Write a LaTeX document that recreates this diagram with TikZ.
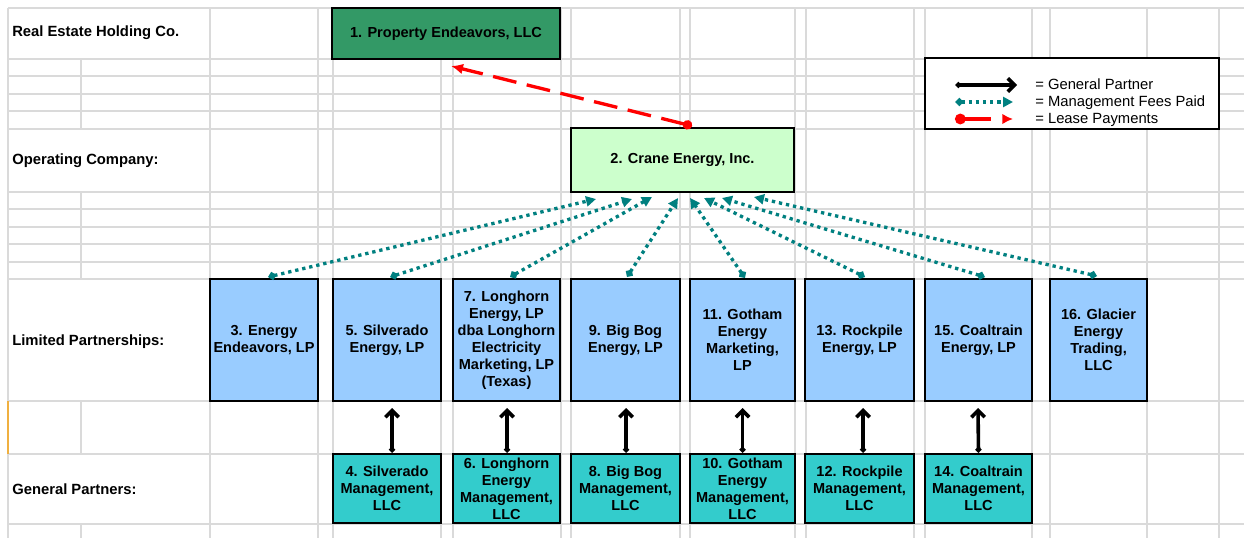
\documentclass[tikz,border=0pt]{standalone}
\usepackage{fontspec}
\setmainfont{Liberation Sans}
\usetikzlibrary{arrows.meta,calc}
\definecolor{gridc}{HTML}{DADADA}
\definecolor{gone}{HTML}{339966}
\definecolor{gtwo}{HTML}{CCFFCC}
\definecolor{lpc}{HTML}{99CCFF}
\definecolor{gpc}{HTML}{33CCCC}
\definecolor{teal}{HTML}{008080}
\definecolor{leasered}{HTML}{FF0000}
\definecolor{orangeedge}{HTML}{F0B040}
\begin{document}
\begin{tikzpicture}[x=0.75pt,y=-0.75pt,
  box/.style={draw=black,line width=1.5pt,inner sep=0pt,align=center,
    font=\bfseries\fontsize{10.9}{12.75}\selectfont},
  lab/.style={anchor=base west,inner sep=0pt,font=\bfseries\fontsize{11.1}{12.75}\selectfont},
  legtxt/.style={anchor=base west,inner sep=0pt,font=\fontsize{11.1}{12.75}\selectfont},
  lpbox/.style={box,fill=lpc,minimum height=91.5pt},
  gpbox/.style={box,fill=gpc,minimum height=51.75pt},
  gridline/.style={gridc,line width=0.9pt},
  fee/.style={teal,line width=2.5pt,dash pattern=on 2.5pt off 2.9pt,
    {Diamond[length=6.5pt,width=6.5pt]}-{Triangle[length=7.5pt,width=7.5pt]}},
  gparrow/.style={black,line width=2.7pt,
    {Diamond[length=5pt,width=5pt]}-{Straight Barb[length=5pt,width=10pt]}},
  lease/.style={leasered,line width=2.5pt,dash pattern=on 18pt off 8pt,
    {Circle[length=7pt]}-{Latex[length=9pt,width=8pt]}},
  leaseleg/.style={leasered,line width=2.5pt,dash pattern=on 20pt off 30pt,
    {Circle[length=8pt]}-{Latex[length=8pt,width=8pt]}}
]
\useasboundingbox (0,0) rectangle (1244,538);
\fill[white] (0,0) rectangle (1244,538);

% ---- spreadsheet grid ----
\foreach \y in {8,59,76,94,111,129,192,209,227,244,262,279,401,454,524}
  \draw[gridline] (8,\y) -- (1244,\y);
\foreach \x in {210,318,333,441,453,561,571,680,690,795,806,914,925,1032,1050,1147,1219}
  \draw[gridline] (\x,8) -- (\x,538);
\draw[gridline] (8,8) -- (8,538);
\draw[orangeedge,line width=0.9pt] (8,401) -- (8,454);
\foreach \a/\b in {59/129,192/279,401/454,524/538}
  \draw[gridline] (81,\a) -- (81,\b);

% ---- row labels ----
\node[lab] (l1) at (12,37) {Real Estate Holding Co.};
\node[lab] (l2) at (12,165) {Operating Company:};
\node[lab] (l3) at (12,345) {Limited Partnerships:};
\node[lab] (l4) at (12,494) {General Partners:};

% ---- companies ----
\node[box,fill=gone,minimum width=171pt,minimum height=38.25pt] (n1) at (446,33.5) {1. Property Endeavors, LLC};
\node[box,fill=gtwo,minimum width=167.25pt,minimum height=48pt] (n2) at (682.5,160) {2. Crane Energy, Inc.};

\node[lpbox,minimum width=81pt]    (n3)  at (264,340)    {3. Energy\\Endeavors, LP};
\node[lpbox,minimum width=81pt]    (n5)  at (387,340)    {5. Silverado\\Energy, LP};
\node[lpbox,minimum width=80.25pt] (n7)  at (506.5,340)  {7. Longhorn\\Energy, LP\\dba Longhorn\\Electricity\\Marketing, LP\\(Texas)};
\node[lpbox,minimum width=81.75pt] (n9)  at (625.5,340)  {9. Big Bog\\Energy, LP};
\node[lpbox,minimum width=78.75pt] (n11) at (742.5,340)  {11. Gotham\\Energy\\Marketing,\\LP};
\node[lpbox,minimum width=81.75pt] (n13) at (859.5,340)  {13. Rockpile\\Energy, LP};
\node[lpbox,minimum width=80.25pt] (n15) at (978.5,340)  {15. Coaltrain\\Energy, LP};
\node[lpbox,minimum width=72.75pt] (n16) at (1098.5,340) {16. Glacier\\Energy\\Trading,\\LLC};

\node[gpbox,minimum width=81pt]    (n4)  at (387,488.5)   {4. Silverado\\Management,\\LLC};
\node[gpbox,minimum width=80.25pt] (n6)  at (506.5,488.5) {6. Longhorn\\Energy\\Management,\\LLC};
\node[gpbox,minimum width=81.75pt] (n8)  at (625.5,488.5) {8. Big Bog\\Management,\\LLC};
\node[gpbox,minimum width=78.75pt] (n10) at (742.5,488.5) {10. Gotham\\Energy\\Management,\\LLC};
\node[gpbox,minimum width=81.75pt] (n12) at (859.5,488.5) {12. Rockpile\\Management,\\LLC};
\node[gpbox,minimum width=80.25pt] (n14) at (978.5,488.5) {14. Coaltrain\\Management,\\LLC};

% ---- general partner arrows ----
\draw[gparrow] ($(n4.north)+(5,0)$)  -- ($(n5.south)+(5,6)$);
\draw[gparrow] ($(n6.north)+(0.5,0)$) -- ($(n7.south)+(0.5,6)$);
\draw[gparrow] ($(n8.north)+(0.5,0)$) -- ($(n9.south)+(0.5,6)$);
\draw[gparrow] (n10.north) -- ($(n11.south)+(0,6)$);
\draw[gparrow] ($(n12.north)+(3.5,0)$) -- ($(n13.south)+(3.5,6)$);
\draw[gparrow] (n14.north) -- ($(n15.south)+(-0.5,6)$);

% ---- management fee arrows ----
\draw[fee] ($(n3.north)+(4,-1)$)   -- ($(n2.south west)+(26,6)$);
\draw[fee] ($(n5.north)+(3,-1)$)   -- ($(n2.south west)+(62,6)$);
\draw[fee] ($(n7.north)+(3.5,-1)$) -- ($(n2.south west)+(82,4)$);
\draw[fee] ($(n9.north)+(1.5,-1)$) -- ($(n2.south west)+(108,5)$);
\draw[fee] ($(n11.north)+(2.5,0)$) -- ($(n2.south west)+(120,5)$);
\draw[fee] ($(n13.north)+(5.5,-1)$) -- ($(n2.south west)+(134,5)$);
\draw[fee] ($(n15.north)+(6.5,-1)$) -- ($(n2.south west)+(152,5)$);
\draw[fee] ($(n16.north)+(-1.5,-2)$) -- ($(n2.south west)+(184,4)$);

% ---- lease payments ----
\draw[lease] ($(n2.north west)+(122,-1)$) -- ($(n1.south west)+(120,6)$);

% ---- legend ----
\node[draw=black,line width=1.5pt,fill=white,inner sep=0pt,minimum width=220.5pt,minimum height=53.25pt] (leg) at (1072,93.5) {};
\coordinate (la1) at (955,85);  \coordinate (lb1) at (1017,85);
\coordinate (la2) at (955,102); \coordinate (lb2) at (1013,102);
\coordinate (la3) at (955,119); \coordinate (lb3) at (1013,119);
\draw[gparrow] (la1) -- (lb1);
\draw[fee] (la2) -- (lb2);
\draw[leaseleg] (la3) -- (lb3);
\node[legtxt] (t1) at (1035,90)  {= General Partner};
\node[legtxt] (t2) at (1035,107) {= Management Fees Paid};
\node[legtxt] (t3) at (1035,124) {= Lease Payments};
\end{tikzpicture}
\end{document}
